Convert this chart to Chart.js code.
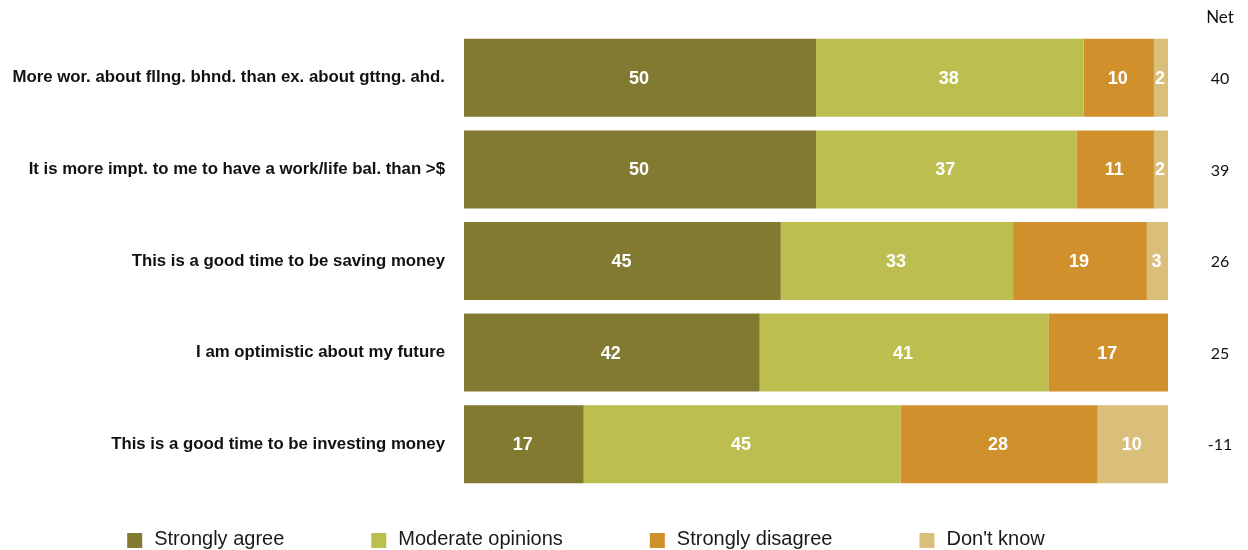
<!DOCTYPE html>
<html lang="en">
<head>
    <meta charset="UTF-8">
    <title>Attitudes survey</title>
    <script src="https://cdn.jsdelivr.net/npm/chart.js"></script>
    <style>
        html, body { margin: 0; padding: 0; background: #fff; }
        #wrap { position: relative; width: 1248px; height: 550px; }
    </style>
</head>
<body>
    <div id="wrap">
        <canvas id="surveyChart" width="1248" height="550"></canvas>
    </div>

    <script>
// Survey statements and the share of answers in each group (percent)
const categories = [
    'More wor. about fllng. bhnd. than ex. about gttng. ahd.',
    'It is more impt. to me to have a work/life bal. than >$',
    'This is a good time to be saving money',
    'I am optimistic about my future',
    'This is a good time to be investing money'
];
const stronglyAgree    = [50, 50, 45, 42, 17];
const moderate         = [38, 37, 33, 41, 45];
const stronglyDisagree = [10, 11, 19, 17, 28];
const dontKnow         = [2, 2, 3, 0, 10];
const netValues        = [40, 39, 26, 25, -11];

const seriesNames  = ['Strongly agree', 'Moderate opinions', 'Strongly disagree', "Don't know"];
const seriesColors = ['#837a31', '#bcbf4f', '#d0902b', '#dabf7b'];

const sansFont = "'Liberation Sans', Arial, Helvetica, sans-serif";
const netFont = "Lato, 'Open Sans', sans-serif";

// white numbers in the middle of each bar segment
const segmentLabels = {
    id: 'segmentLabels',
    afterDatasetsDraw(chart) {
        const ctx = chart.ctx;
        ctx.save();
        ctx.fillStyle = '#ffffff';
        ctx.font = 'bold 18px ' + sansFont;
        ctx.textAlign = 'center';
        ctx.textBaseline = 'middle';
        chart.data.datasets.forEach((ds, i) => {
            chart.getDatasetMeta(i).data.forEach((bar, j) => {
                const v = ds.data[j];
                if (!v) return;
                const p = bar.getCenterPoint();
                ctx.fillText(String(v), p.x - 1, p.y + 1);
            });
        });
        ctx.restore();
    }
};

// "Net" column on the right side of the bars
const netColumn = {
    id: 'netColumn',
    afterDraw(chart) {
        const ctx = chart.ctx;
        const x = chart.chartArea.right + 52;
        ctx.save();
        ctx.fillStyle = '#111111';
        ctx.textAlign = 'center';
        ctx.textBaseline = 'middle';
        ctx.font = '17px ' + netFont;
        ctx.fillText('Net', x, 18);
        ctx.font = '16px ' + netFont;
        const meta = chart.getDatasetMeta(0);
        netValues.forEach((v, j) => {
            ctx.fillText(String(v), x, meta.data[j].y + 1);
        });
        ctx.restore();
    }
};

// legend row under the chart
const bottomLegend = {
    id: 'bottomLegend',
    afterDraw(chart) {
        const ctx = chart.ctx;
        const box = 15, textGap = 12, itemGap = 87;
        ctx.save();
        ctx.font = '20px ' + sansFont;
        const widths = seriesNames.map(n => ctx.measureText(n).width);
        let total = 0;
        widths.forEach((w, i) => {
            total += box + textGap + w + (i < widths.length - 1 ? itemGap : 0);
        });
        let x = 586 - total / 2;
        const baseline = 545;
        ctx.textAlign = 'left';
        ctx.textBaseline = 'alphabetic';
        seriesNames.forEach((name, i) => {
            ctx.fillStyle = seriesColors[i];
            ctx.fillRect(x, baseline - 12, box, box);
            ctx.fillStyle = '#1a1a1a';
            ctx.fillText(name, x + box + textGap, baseline);
            x += box + textGap + widths[i] + itemGap;
        });
        ctx.restore();
    }
};

const seriesData = [stronglyAgree, moderate, stronglyDisagree, dontKnow];

new Chart(document.getElementById('surveyChart'), {
    type: 'bar',
    data: {
        labels: categories,
        datasets: seriesData.map((d, i) => ({
            label: seriesNames[i],
            data: d,
            backgroundColor: seriesColors[i],
            borderWidth: 0,
            categoryPercentage: 1,
            barPercentage: 0.852
        }))
    },
    options: {
        indexAxis: 'y',
        responsive: false,
        animation: false,
        layout: {
            padding: { top: 32, bottom: 60, left: 0, right: 80 }
        },
        scales: {
            x: {
                stacked: true,
                min: 0,
                max: 100,
                display: false
            },
            y: {
                stacked: true,
                grid: { display: false, drawTicks: false },
                border: { display: false },
                ticks: {
                    padding: 19,
                    color: '#111111',
                    font: { family: sansFont, size: 16.8, weight: 'bold' }
                },
                afterFit(scale) {
                    scale.width = 464;
                }
            }
        },
        plugins: {
            legend: { display: false },
            tooltip: { enabled: false }
        }
    },
    plugins: [segmentLabels, netColumn, bottomLegend]
});
    </script>
</body>
</html>
